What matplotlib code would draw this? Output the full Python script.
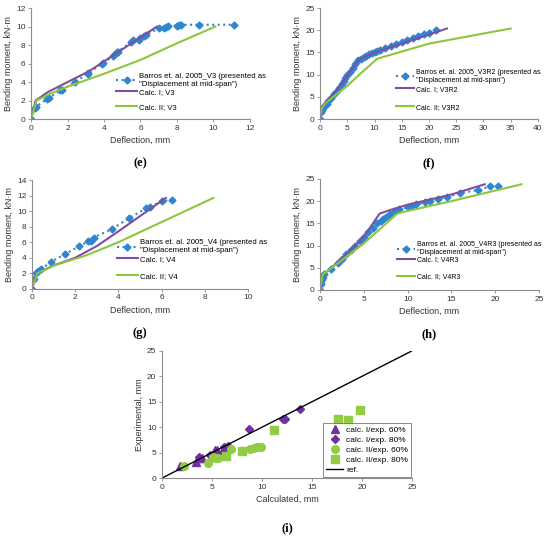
import numpy as np
import matplotlib.pyplot as plt
from matplotlib import font_manager
from matplotlib.legend import Legend

names = {f.name for f in font_manager.fontManager.ttflist}
base_font = 'Liberation Sans Narrow' if 'Liberation Sans Narrow' in names else 'Liberation Sans'
plt.rcParams['font.family'] = [base_font, 'DejaVu Sans']

BLUE = '#2F86D0'
PURPLE = '#7E4FA0'
GREEN = '#8CC63E'
AXC = '#8c8c8c'

# (e) V3
e_exp_x = [0, 0.2, 0.25, 0.9, 1.0, 1.6, 1.7, 2.4, 3.1, 3.15, 3.9, 3.95, 4.5, 4.6, 4.7, 4.75,
           5.5, 5.6, 5.9, 6.0, 6.2, 6.3, 7.0, 7.3, 7.4, 7.5, 8.0, 8.1, 8.2, 9.2, 11.1]
e_exp_y = [0, 1.2, 1.3, 2.2, 2.3, 3.1, 3.2, 4.0, 4.9, 5.0, 6.0, 6.1, 6.8, 7.0, 7.2, 7.3,
           8.3, 8.5, 8.5, 8.8, 9.0, 9.1, 9.8, 9.8, 10.0, 10.1, 10.1, 10.2, 10.2, 10.2, 10.2]
e_c1_x = [0, 0.25, 0.9, 3.2, 6.9]
e_c1_y = [0, 2.0, 2.9, 5.2, 10.0]
e_c2_x = [0, 0.3, 1.0, 2.0, 4.0, 6.0, 8.0, 10.1]
e_c2_y = [0, 2.0, 2.7, 3.5, 4.9, 6.4, 8.2, 10.0]

# (f) V3R2
f_exp_x = [0, 0.1, 0.3, 0.5, 0.8, 1.2, 1.5, 2, 2.5, 3, 3.5, 4, 4.3, 4.5, 5, 5.5, 6, 6.5, 7, 7.5,
           8, 8.5, 9, 9.5, 10, 10.5, 11, 12, 13, 14, 15, 16, 17, 18, 19, 20, 21.2]
f_exp_y = [0, 1.5, 2, 2.6, 3, 3.5, 4, 4.8, 5.6, 6.2, 7, 8, 8.5, 9.3, 10, 10.5, 11.5, 12.5, 13.2, 13.6,
           14, 14.3, 14.6, 14.8, 15, 15.3, 15.5, 16, 16.5, 17, 17.3, 17.8, 18.3, 18.8, 19.2, 19.5, 20]
f_c1_x = [0, 0.3, 1, 2, 4, 7, 10, 23.3]
f_c1_y = [0, 2.5, 3.8, 5, 8, 13.3, 15, 20.4]
f_c2_x = [0, 0.3, 1, 2, 5, 7, 10.5, 20, 35]
f_c2_y = [0, 2.5, 3.6, 4.6, 7.5, 9.8, 13.6, 17, 20.4]

# (g) V4
g_exp_x = [0, 0.1, 0.2, 0.3, 0.4, 0.9, 1.55, 2.2, 2.6, 2.75, 2.85, 3.7, 4.5, 5.3, 5.45, 6.0, 6.5]
g_exp_y = [0, 1.3, 2.0, 2.3, 2.5, 3.5, 4.5, 5.5, 6.1, 6.2, 6.6, 7.7, 9.1, 10.4, 10.5, 11.3, 11.4]
g_c1_x = [0, 0.25, 1.0, 2.0, 3.0, 4.0, 6.2]
g_c1_y = [0, 2.0, 3.0, 4.0, 5.5, 7.4, 11.7]
g_c2_x = [0, 0.25, 1.0, 2.5, 4.0, 6.0, 8.4]
g_c2_y = [0, 2.0, 3.0, 4.3, 6.0, 8.6, 11.7]

# (h) V4R3
h_exp_x = [0, 0.05, 0.1, 0.2, 0.3, 0.5, 1.2, 2, 2.5, 3, 3.5, 4, 4.5, 5, 5.5, 6, 6.5, 7, 7.2, 7.5,
           8, 8.5, 9, 10, 10.5, 11, 12, 12.5, 13.5, 14.5, 16, 18, 19.4, 20.3]
h_exp_y = [0, 1.3, 2, 2.5, 3, 3.5, 4.8, 6, 7, 8, 9, 10, 11, 12, 13, 14, 15, 15.6, 16, 16.5,
           17.2, 17.8, 18.2, 18.6, 19, 19.3, 19.7, 20, 20.5, 21, 21.8, 22.5, 23.3, 23.3]
h_c1_x = [0, 0.3, 1, 3, 5, 6.8, 8, 10, 15, 18.8]
h_c1_y = [0, 3.5, 4.5, 8, 12, 17.2, 18, 19.2, 21.5, 23.8]
h_c2_x = [0, 0.3, 1, 3, 5, 8.8, 10, 15, 23]
h_c2_y = [0, 3.5, 4.5, 7.5, 10.5, 17.2, 17.8, 20, 23.8]

# (i) calculated vs experimental
i1_60_x = [1.8, 3.4, 3.7, 4.0, 5.3, 5.5, 6.1, 6.3]
i1_60_y = [2.4, 3.1, 3.9, 3.9, 5.6, 5.5, 5.5, 5.9]
i1_80_x = [3.7, 4.8, 6.2, 6.6, 8.7, 12.1, 12.3, 13.8]
i1_80_y = [4.1, 4.6, 6.1, 6.3, 9.6, 11.6, 11.6, 13.5]
i2_60_x = [2.2, 4.6, 5.1, 5.3, 5.6, 6.9, 8.8, 9.2, 9.5, 9.9]
i2_60_y = [2.4, 2.9, 4.1, 4.0, 3.9, 5.7, 5.7, 5.9, 6.1, 6.2]
i2_80_x = [6.4, 8.0, 11.2, 17.6, 18.6, 19.8]
i2_80_y = [4.4, 5.4, 9.5, 11.6, 11.5, 13.4]
ref_x = [0, 25]
ref_y = [0, 25]


def style_axes(ax):
    for s in ['top', 'right']:
        ax.spines[s].set_visible(False)
    for s in ['left', 'bottom']:
        ax.spines[s].set_color(AXC)
        ax.spines[s].set_linewidth(0.8)
    ax.tick_params(labelsize=6, length=2.5, width=0.6, color=AXC, pad=1.5, labelcolor='#333333')


def curve_panel(rect, name, exp_x, exp_y, c1x, c1y, c2x, c2y, xmax, xstep, ymax, ystep,
                leg_x, leg_ys, leg_fs, letter, letter_y):
    ax = fig.add_axes(rect)
    h0, = ax.plot(exp_x, exp_y, ':', color=BLUE, lw=1.5, marker='D', ms=3.5)
    h1, = ax.plot(c1x, c1y, '-', color=PURPLE, lw=1.5)
    h2, = ax.plot(c2x, c2y, '-', color=GREEN, lw=1.5)
    ax.set_xlim(0, xmax)
    ax.set_ylim(0, ymax)
    ax.set_xticks(np.arange(0, xmax + 0.01, xstep))
    ax.set_yticks(np.arange(0, ymax + 0.01, ystep))
    style_axes(ax)
    ax.set_xlabel('Deflection, mm', fontsize=6.5, labelpad=3, color='#333333')
    ax.set_ylabel('Bending moment, kN·m', fontsize=6.5, labelpad=2, color='#333333')
    labels = ['Barros et. al. 2005_' + name + ' (presented as\n"Displacement at mid-span")',
              'Calc. I; ' + name, 'Calc. II; ' + name]
    # one legend per entry, so the uneven spacing of the original can be kept
    for hnd, lab, ly in zip([h0, h1, h2], labels, leg_ys):
        leg = Legend(ax, [hnd], [lab], loc='center left', bbox_to_anchor=(leg_x, ly),
                     frameon=False, fontsize=leg_fs, handlelength=2.6, handletextpad=0.3,
                     borderpad=0, borderaxespad=0)
        ax.add_artist(leg)
    fig.text(rect[0] + rect[2] / 2, letter_y, letter, ha='center', va='center',
             fontsize=9, fontweight='bold', family='Liberation Serif')
    return ax


fig = plt.figure(figsize=(5.5, 5.39), dpi=100)

curve_panel([0.0564, 0.779, 0.398, 0.206], 'V3', e_exp_x, e_exp_y, e_c1_x, e_c1_y, e_c2_x, e_c2_y,
            12, 2, 12, 2, 0.39, (0.347, 0.243, 0.108), 5.6, '(e)', 1 - 163 / 539)
curve_panel([0.582, 0.779, 0.396, 0.206], 'V3R2', f_exp_x, f_exp_y, f_c1_x, f_c1_y, f_c2_x, f_c2_y,
            40, 5, 25, 5, 0.35, (0.387, 0.27, 0.108), 5.0, '(f)', 1 - 163 / 539)
curve_panel([0.058, 0.464, 0.393, 0.202], 'V4', g_exp_x, g_exp_y, g_c1_x, g_c1_y, g_c2_x, g_c2_y,
            10, 2, 14, 2, 0.395, (0.387, 0.275, 0.12), 5.6, '(g)', 1 - 333 / 539)
curve_panel([0.582, 0.462, 0.398, 0.206], 'V4R3', h_exp_x, h_exp_y, h_c1_x, h_c1_y, h_c2_x, h_c2_y,
            25, 5, 25, 5, 0.35, (0.374, 0.27, 0.12), 5.0, '(h)', 1 - 334 / 539)

# (i)
ax = fig.add_axes([0.2945, 0.113, 0.4545, 0.236])
ax.plot(i1_60_x, i1_60_y, '^', color='#7030A0', ms=5.5, ls='none', label='calc. I/exp. 60%')
ax.plot(i1_80_x, i1_80_y, 'D', color='#7030A0', ms=4.5, ls='none', label='calc. I/exp. 80%')
ax.plot(i2_60_x, i2_60_y, 'o', color='#92CC44', ms=5.5, ls='none', label='calc. II/exp. 60%')
ax.plot(i2_80_x, i2_80_y, 's', color='#92CC44', ms=5.5, ls='none', label='calc. II/exp. 80%')
ax.plot(ref_x, ref_y, '-', color='black', lw=1, label='ref.')
ax.set_xlim(0, 25)
ax.set_ylim(0, 25)
ax.set_xticks(np.arange(0, 26, 5))
ax.set_yticks(np.arange(0, 26, 5))
style_axes(ax)
ax.set_xlabel('Calculated, mm', fontsize=6.5, labelpad=3, color='#333333')
ax.set_ylabel('Experimental, mm', fontsize=6.5, labelpad=2, color='#333333')
leg = ax.legend(loc='lower right', bbox_to_anchor=(1.0, 0.0), fontsize=6, frameon=True,
                fancybox=False, handlelength=2, handletextpad=0.4, labelspacing=0.28,
                borderpad=0.35, borderaxespad=0.1)
leg.get_frame().set_edgecolor('#555555')
leg.get_frame().set_linewidth(0.6)
fig.text(0.2945 + 0.4545 / 2, 1 - 528 / 539, '(i)', ha='center', va='center',
         fontsize=9, fontweight='bold', family='Liberation Serif')

fig.savefig('out.png', dpi=100)
